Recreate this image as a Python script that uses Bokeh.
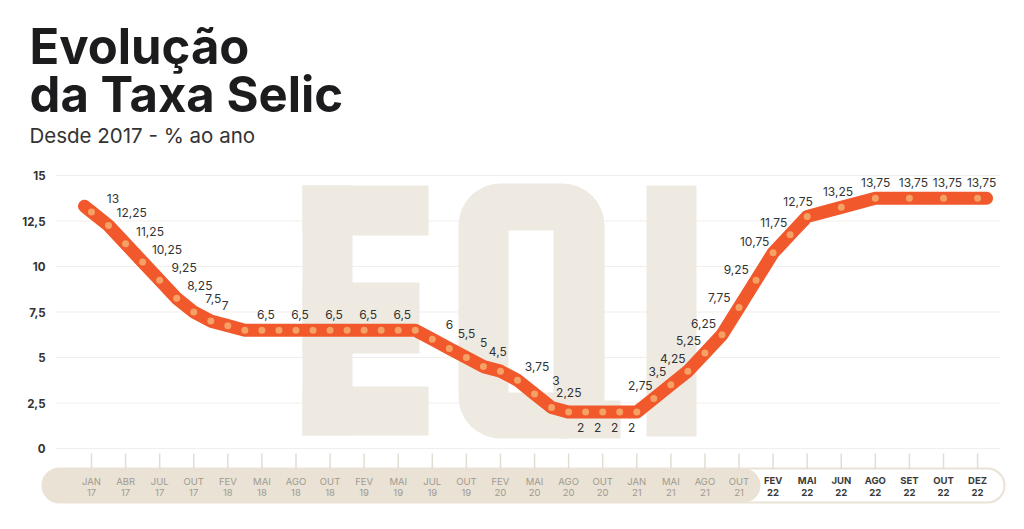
import math
from bokeh.plotting import figure
from bokeh.models import Range1d, LinearAxis, FixedTicker, ColumnDataSource
from bokeh.core.properties import value
from bokeh.embed import file_html
from bokeh.resources import INLINE

# ---------------- data ----------------
meetings = ["JAN 17", "FEV 17", "ABR 17", "MAI 17", "JUL 17", "SET 17", "OUT 17", "DEZ 17",
            "FEV 18", "MAR 18", "MAI 18", "JUN 18", "AGO 18", "SET 18", "OUT 18", "DEZ 18",
            "FEV 19", "MAR 19", "MAI 19", "JUN 19", "JUL 19", "SET 19", "OUT 19", "DEZ 19",
            "FEV 20", "MAR 20", "MAI 20", "JUN 20", "AGO 20", "SET 20", "OUT 20", "DEZ 20",
            "JAN 21", "MAR 21", "MAI 21", "JUN 21", "AGO 21", "SET 21", "OUT 21", "DEZ 21",
            "FEV 22", "MAR 22", "MAI 22", "JUN 22", "AGO 22", "SET 22", "OUT 22", "DEZ 22"]
selic = [13, 12.25, 11.25, 10.25, 9.25, 8.25, 7.5, 7,
         6.75, 6.5, 6.5, 6.5, 6.5, 6.5, 6.5, 6.5,
         6.5, 6.5, 6.5, 6.5, 6, 5.5, 5, 4.5,
         4.25, 3.75, 3, 2.25, 2, 2, 2, 2,
         2, 2.75, 3.5, 4.25, 5.25, 6.25, 7.75, 9.25,
         10.75, 11.75, 12.75, 13.25, 13.75, 13.75, 13.75, 13.75]
x_ticks = ["JAN 17", "ABR 17", "JUL 17", "OUT 17", "FEV 18", "MAI 18", "AGO 18", "OUT 18",
           "FEV 19", "MAI 19", "JUL 19", "OUT 19", "FEV 20", "MAI 20", "AGO 20", "OUT 20",
           "JAN 21", "MAI 21", "AGO 21", "OUT 21",
           "FEV 22", "MAI 22", "JUN 22", "AGO 22", "SET 22", "OUT 22", "DEZ 22"]
highlight_ticks = ["FEV 22", "MAI 22", "JUN 22", "AGO 22", "SET 22", "OUT 22", "DEZ 22"]
unlabeled = ["FEV 18", "MAR 18", "JUN 18", "SET 18", "DEZ 18", "MAR 19", "JUN 19", "FEV 20", "JAN 21"]
y_ticks = [0, 2.5, 5, 7.5, 10, 12.5, 15]
y_tick_labels = ["0", "2,5", "5", "7,5", "10", "12,5", "15"]

title_1 = "Evolução"
title_2 = "da Taxa Selic"
subtitle = "Desde 2017 - % ao ano"

# ---------------- layout helpers (page pixels) ----------------
PX_X0, PX_PER_X = 91.0, 34.08     # px of first tick, px per tick step
PX_Y0, PX_PER_Y = 448.0, 18.2     # px of value 0, px per unit
W, H = 1008, 513
FR_L, FR_R, FR_T, FR_B = 20, W, 0, 505


def ix(px):
    return (px - PX_X0) / PX_PER_X


def iy(py):
    return (PX_Y0 - py) / PX_PER_Y


p = figure(width=W, height=H, output_backend="svg", toolbar_location=None,
           x_range=Range1d(ix(FR_L), ix(FR_R)), y_range=Range1d(iy(FR_B), iy(FR_T)),
           x_axis_type=None, y_axis_type=None,
           min_border_left=FR_L, min_border_right=W - FR_R,
           min_border_top=FR_T, min_border_bottom=H - FR_B)
p.outline_line_color = None
p.background_fill_color = "white"
p.border_fill_color = "white"

# x positions: tick meetings on their tick, the others half-way to the next tick
pos = []
last = 0.0
for m in meetings:
    if m in x_ticks:
        last = float(x_ticks.index(m))
        pos.append(last)
    else:
        pos.append(last + 0.5)

# ---------------- grid ----------------
p.segment(x0=[ix(55)] * len(y_ticks), x1=[ix(1000)] * len(y_ticks), y0=y_ticks, y1=y_ticks,
          line_color="#F1EFEB", line_width=1)

# ---------------- watermark "EQI" ----------------
wm = "#EEEAE1"
E_parts = [(302, 185, 352, 435), (302, 185, 428, 235), (302, 282, 419, 353), (302, 386, 428, 435)]
p.quad(left=[ix(a) for a, b, c, d in E_parts], right=[ix(c) for a, b, c, d in E_parts],
       top=[iy(b) for a, b, c, d in E_parts], bottom=[iy(d) for a, b, c, d in E_parts],
       fill_color=wm, line_color=None)
p.quad(left=[ix(458)], right=[ix(604)], top=[iy(183)], bottom=[iy(438)],
       fill_color=wm, line_color=None, border_radius=42)
p.quad(left=[ix(560)], right=[ix(620)], top=[iy(400)], bottom=[iy(438)],
       fill_color=wm, line_color=None)
p.quad(left=[ix(508)], right=[ix(553)], top=[iy(230)], bottom=[iy(392)],
       fill_color="white", line_color=None)
p.quad(left=[ix(646)], right=[ix(696)], top=[iy(185)], bottom=[iy(436)],
       fill_color=wm, line_color=None)

# ---------------- x band ----------------
band_col = "#E9E2D5"
p.quad(left=[ix(42)], right=[ix(1004)], top=[iy(468)], bottom=[iy(502)],
       fill_color="white", line_color=band_col, line_width=2, border_radius=17)
p.quad(left=[ix(42)], right=[ix(760)], top=[iy(468)], bottom=[iy(502)],
       fill_color=band_col, line_color=None, border_radius=17)
tick_pos = list(range(len(x_ticks)))
p.segment(x0=tick_pos, x1=tick_pos, y0=[iy(453)] * len(tick_pos), y1=[iy(468)] * len(tick_pos),
          line_color="#E2DDD3", line_width=1.5)

# ---------------- series ----------------
sx = PX_PER_X
sy = PX_PER_Y
ext = 9.0  # px the stroke continues beyond the end points


def extend(xa, ya, xb, yb):
    dxp, dyp = (xa - xb) * sx, (ya - yb) * sy
    L = math.hypot(dxp, dyp)
    return xa + ext * dxp / L / sx, ya + ext * dyp / L / sy


sx0, sy0 = extend(pos[0], selic[0], pos[1], selic[1])
sx1, sy1 = extend(pos[-1], selic[-1], pos[-2], selic[-2])
p.line([sx0] + pos + [sx1], [sy0] + selic + [sy1], line_color="#F1582B", line_width=13,
       line_cap="round", line_join="round")
p.scatter(pos, selic, size=7, fill_color="#F5A064", line_color=None)

# ---------------- value labels ----------------
n = len(selic)
lx, ly, lt, xo, yo = [], [], [], [], []
vmin = min(selic)
for i in range(n):
    if meetings[i] in unlabeled:
        continue
    a, b = max(i - 1, 0), min(i + 1, n - 1)
    th = math.atan2((selic[b] - selic[a]) * sy, (pos[b] - pos[a]) * sx)
    if selic[i] == vmin:
        dxo, dyo = 12, 15
    else:
        dxo = 4 - 28 * math.sin(th)
        dyo = -(4 + 12 * math.cos(th))
    lx.append(pos[i])
    ly.append(selic[i])
    lt.append(f"{selic[i]:g}".replace(".", ","))
    xo.append(dxo)
    yo.append(dyo)
src = ColumnDataSource(dict(x=lx, y=ly, t=lt, xo=xo, yo=yo))
p.text(x="x", y="y", text="t", x_offset="xo", y_offset="yo", source=src,
       text_font=value("Inter"), text_font_size="12px", text_color="#333333",
       text_align="center", text_baseline="middle")

# ---------------- axes ----------------
yax = LinearAxis(ticker=FixedTicker(ticks=y_ticks),
                 major_label_overrides={t: l for t, l in zip(y_ticks, y_tick_labels)})
yax.axis_line_color = None
yax.major_tick_line_color = None
yax.minor_tick_line_color = None
yax.major_tick_in = 0
yax.major_tick_out = 0
yax.major_label_standoff = -(45 - FR_L)
yax.major_label_text_font = "Inter"
yax.major_label_text_font_style = "bold"
yax.major_label_text_font_size = "11.5px"
yax.major_label_text_color = "#333333"
p.add_layout(yax, "left")

plain = [i for i, t in enumerate(x_ticks) if t not in highlight_ticks]
xax = LinearAxis(ticker=FixedTicker(ticks=plain),
                 major_label_overrides={i: x_ticks[i].replace(" ", "\n") for i in plain})
xax.axis_line_color = None
xax.major_tick_line_color = None
xax.minor_tick_line_color = None
xax.major_tick_in = 0
xax.major_tick_out = 0
xax.major_label_standoff = 480 - 5 - FR_B
xax.major_label_text_font = "Inter"
xax.major_label_text_font_size = "9.5px"
xax.major_label_text_line_height = 1.0
xax.major_label_text_color = "#A09A8F"
p.add_layout(xax, "below")

hl = [i for i, t in enumerate(x_ticks) if t in highlight_ticks]
p.text(x=hl, y=[iy(480)] * len(hl), text=[x_ticks[i].split(" ")[0] for i in hl],
       text_font=value("Inter"), text_font_style="bold", text_font_size="9.5px",
       text_color="#3A3A3A", text_align="center", text_baseline="middle")
p.text(x=hl, y=[iy(492)] * len(hl), text=[x_ticks[i].split(" ")[1] for i in hl],
       text_font=value("Inter"), text_font_style="bold", text_font_size="9.5px",
       text_color="#3A3A3A", text_align="center", text_baseline="middle")

# ---------------- titles ----------------
p.text(x=[ix(29)], y=[iy(46)], text=[title_1], text_font=value("Inter"), text_font_style="bold",
       text_font_size="49px", text_color="#1C1C1E", text_baseline="alphabetic")
p.text(x=[ix(29)], y=[iy(94)], text=[title_2], text_font=value("Inter"), text_font_style="bold",
       text_font_size="49px", text_color="#1C1C1E", text_baseline="alphabetic")
p.text(x=[ix(29)], y=[iy(135)], text=[subtitle], text_font=value("Inter"),
       text_font_size="20.5px", text_color="#333333", text_baseline="alphabetic")

open("out.html", "w").write(file_html(p, INLINE))
